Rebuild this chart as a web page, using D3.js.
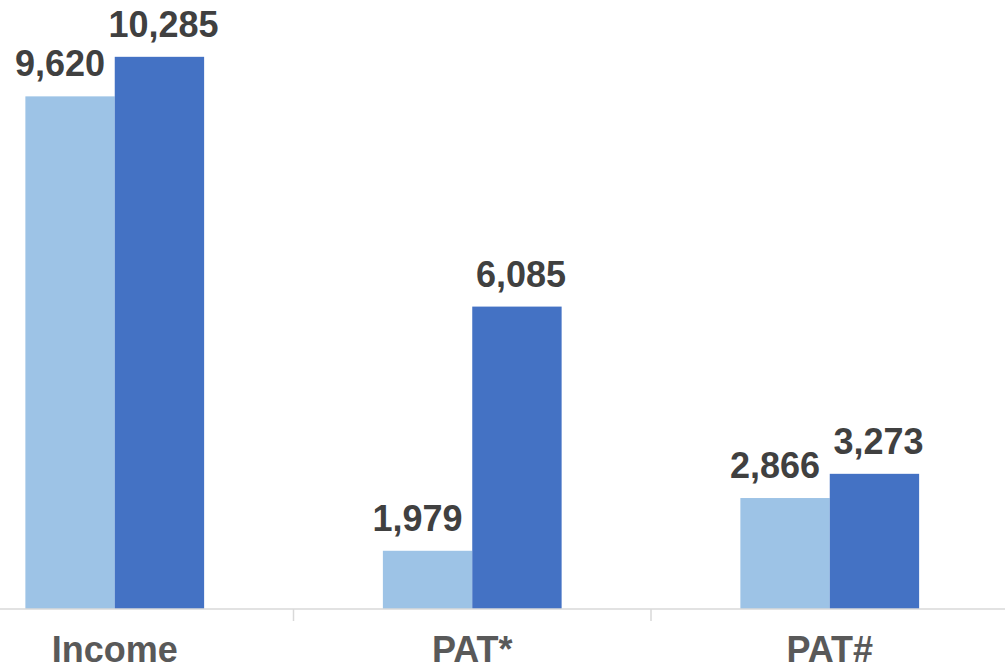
<!DOCTYPE html>
<html>
<head>
<meta charset="utf-8">
<script src="https://cdn.jsdelivr.net/npm/d3@7"></script>
<style>
  html, body { margin: 0; padding: 0; background: #ffffff; }
  svg { display: block; }
</style>
</head>
<body>
<svg id="chart" width="1005" height="671"></svg>
<script>
// Categories and the two series (previous period, current period)
const categories = ["Income", "PAT*", "PAT#"];
const seriesKeys = ["prior", "current"];
const priorValues = [9620, 1979, 2866];
const currentValues = [10285, 6085, 3273];

const colors = { prior: "#9DC3E6", current: "#4472C4" };

const width = 1005, height = 671;
const baseline = 609;

const svg = d3.select("#chart");

const rows = categories.map((c, i) => ({
  category: c,
  prior: priorValues[i],
  current: currentValues[i]
}));

// Category bands extend past the left edge of the frame
const x = d3.scaleBand()
  .domain(categories)
  .range([-64, 1008.5])
  .paddingInner(0)
  .paddingOuter(0);

const xInner = d3.scaleBand()
  .domain(seriesKeys)
  .range([0, x.bandwidth()])
  .paddingInner(0)
  .paddingOuter(1);

// Value axis does not start at zero
const y = d3.scaleLinear()
  .domain([1000, 11000])
  .range([baseline, baseline - 10000 * 0.05947]);

const groups = svg.append("g")
  .selectAll("g")
  .data(rows)
  .join("g")
  .attr("transform", d => `translate(${x(d.category)},0)`);

groups.selectAll("rect")
  .data(d => seriesKeys.map(k => ({ key: k, value: d[k] })))
  .join("rect")
  .attr("x", d => xInner(d.key))
  .attr("width", xInner.bandwidth())
  .attr("y", d => y(d.value))
  .attr("height", d => baseline - y(d.value))
  .attr("fill", d => colors[d.key]);

// Value labels above each bar
const labelShift = { prior: -10, current: 4 };
groups.selectAll("text.value")
  .data(d => seriesKeys.map(k => ({ key: k, value: d[k] })))
  .join("text")
  .attr("class", "value")
  .attr("x", d => xInner(d.key) + xInner.bandwidth() / 2 + labelShift[d.key])
  .attr("y", d => y(d.value) - 20)
  .attr("text-anchor", "middle")
  .attr("font-family", "'Liberation Sans', Arial, sans-serif")
  .attr("font-weight", "bold")
  .attr("font-size", 36)
  .attr("fill", "#404040")
  .text(d => d3.format(",")(d.value));

// Category axis
const axis = svg.append("g").attr("transform", `translate(0,${baseline})`);
axis.append("line")
  .attr("x1", 0).attr("x2", width)
  .attr("y1", 0).attr("y2", 0)
  .attr("stroke", "#D9D9D9")
  .attr("stroke-width", 1.5);

axis.selectAll("line.tick")
  .data(categories.slice(1))
  .join("line")
  .attr("class", "tick")
  .attr("x1", d => x(d)).attr("x2", d => x(d))
  .attr("y1", 0).attr("y2", 12)
  .attr("stroke", "#D9D9D9")
  .attr("stroke-width", 1.5);

axis.selectAll("text.cat")
  .data(categories)
  .join("text")
  .attr("class", "cat")
  .attr("x", d => x(d) + x.bandwidth() / 2)
  .attr("y", 53)
  .attr("text-anchor", "middle")
  .attr("font-family", "'Liberation Sans', Arial, sans-serif")
  .attr("font-weight", "bold")
  .attr("font-size", 36)
  .attr("fill", "#595959")
  .text(d => d);
</script>
</body>
</html>
